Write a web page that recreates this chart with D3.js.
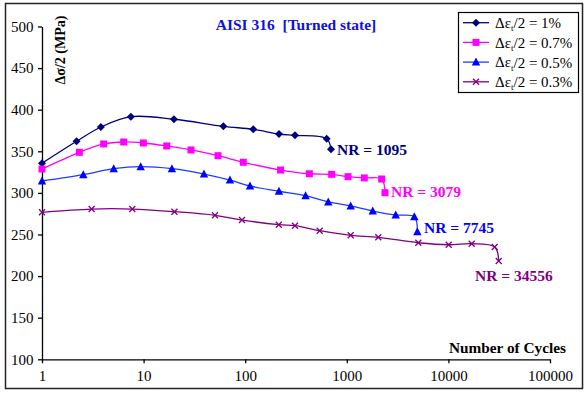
<!DOCTYPE html>
<html>
<head>
<meta charset="utf-8">
<script src="https://cdn.jsdelivr.net/npm/d3@7"></script>
<style>
  body { margin: 0; background: #fff; }
  svg text { font-family: "Liberation Serif", "Times New Roman", serif; }
</style>
</head>
<body>
<svg id="chart" width="588" height="393"></svg>
<script>
// values: [cycles, stress amplitude MPa]
const s1 = [[1,335.6],[2.19,362],[3.8,379.2],[7.5,391.6],[19.9,388.5],[61,380],[120,376.4],[215,370.8],[309,369.2],[634,365.1],[699,352.4]];
const s07 = [[1,328.7],[2.33,348.8],[4.05,358.8],[6.37,361.2],[9.94,360],[16.9,356.4],[29.3,351.6],[54,344.7],[95.7,336.8],[223,327.5],[428,323],[710,322.3],[1028,319.5],[1487,318],[2203,316.7],[2376,300.2]];
const s05 = [[1,314.3],[2.55,321.9],[5.08,329.1],[9.36,331.5],[19,329.1],[39.3,322.7],[70.8,315.5],[111.5,308.3],[215,302],[393,296.6],[657,289.1],[1092,284.3],[1800,278.2],[3030,273.4],[4620,271.4],[4947,253.4]];
const s03 = [[1,276.7],[3.08,280.6],[7.74,280.6],[20.1,277.4],[50.4,273.1],[93,267.4],[214,261.8],[309,260.6],[541,254.6],[1092,249],[2042,246.6],[5058,240.1],[10070,237.7],[16950,238.9],[28560,235],[31300,218.1]];

const seriesNames = ["1%", "0.7%", "0.5%", "0.3%"];
const nrLabels = ["NR = 1095", "NR = 3079", "NR = 7745", "NR = 34556"];
const xTicks = [1, 10, 100, 1000, 10000, 100000];
const yTicks = [100, 150, 200, 250, 300, 350, 400, 450, 500];

const series = [
  { data: s1,  color: "#000080", line: "#000080", mark: "diamond", label: [337, 150] },
  { data: s07, color: "#ff00ff", line: "#ff00ff", mark: "square",  label: [391, 192] },
  { data: s05, color: "#0000ff", line: "#1a3cff", mark: "triangle", label: [424, 228] },
  { data: s03, color: "#800080", line: "#800080", mark: "cross",   label: [475, 276] }
];

const margin = { top: 26.5, right: 38, bottom: 33.7, left: 42 };
const W = 588, H = 393;
const svg = d3.select("svg#chart");

// outer frame
svg.append("rect")
  .attr("x", 5.5).attr("y", 3.5).attr("width", 577).attr("height", 385)
  .attr("fill", "none").attr("stroke", "#222").attr("stroke-width", 1.5);

const x = d3.scaleLog().domain([1, 100000]).range([margin.left, W - margin.right]);
const y = d3.scaleLinear().domain([100, 500]).range([H - margin.bottom, margin.top]);

// axes
svg.append("g")
  .attr("transform", `translate(0,${y(100)})`)
  .attr("font-family", "Liberation Serif")
  .call(d3.axisBottom(x).tickValues(xTicks).tickFormat(d3.format("d")).tickSize(4).tickSizeOuter(0))
  .call(g => g.selectAll("text").attr("font-size", 15).attr("fill", "#000").attr("dy", "0.95em"))
  .call(g => g.selectAll("line, path").attr("stroke", "#000").attr("stroke-width", 1.3));

svg.append("g")
  .attr("transform", `translate(${margin.left},0)`)
  .attr("font-family", "Liberation Serif")
  .call(d3.axisLeft(y).tickValues(yTicks).tickSize(4).tickSizeOuter(0))
  .call(g => g.selectAll("text").attr("font-size", 15).attr("fill", "#000").attr("dx", "-0.1em"))
  .call(g => g.selectAll("line, path").attr("stroke", "#000").attr("stroke-width", 1.3));

// titles
svg.append("text")
  .attr("x", 296).attr("y", 30)
  .attr("text-anchor", "middle")
  .attr("font-size", 15.5).attr("font-weight", "bold").attr("fill", "#1010e0")
  .attr("xml:space", "preserve")
  .text("AISI 316  [Turned state]");

svg.append("text")
  .attr("transform", "translate(65,50) rotate(-90)")
  .attr("text-anchor", "middle")
  .attr("font-size", 14).attr("font-weight", "bold")
  .text("Δσ/2 (MPa)");

svg.append("text")
  .attr("x", 566).attr("y", 353)
  .attr("text-anchor", "end")
  .attr("font-size", 15.3).attr("font-weight", "bold")
  .text("Number of Cycles");

function drawMark(g, type, color) {
  if (type === "diamond") {
    g.append("path").attr("d", "M0,-4L4,0L0,4L-4,0Z").attr("fill", color);
  } else if (type === "square") {
    g.append("rect").attr("x", -3.5).attr("y", -3.5).attr("width", 7).attr("height", 7).attr("fill", color);
  } else if (type === "triangle") {
    g.append("path").attr("d", "M0,-4.5L4.2,3.5L-4.2,3.5Z").attr("fill", color);
  } else {
    g.append("path").attr("d", "M-3,-3L3,3M-3,3L3,-3").attr("stroke", color).attr("stroke-width", 1.3);
  }
}

const line = d3.line()
  .x(d => x(d[0]))
  .y(d => y(d[1]))
  .curve(d3.curveCatmullRom.alpha(0.5));

series.forEach((s, i) => {
  svg.append("path")
    .datum(s.data)
    .attr("fill", "none")
    .attr("stroke", s.line)
    .attr("stroke-width", 1.3)
    .attr("d", line);

  svg.append("g").selectAll("g")
    .data(s.data)
    .join("g")
    .attr("transform", d => `translate(${x(d[0])},${y(d[1])})`)
    .each(function () { drawMark(d3.select(this), s.mark, s.color); });

  svg.append("text")
    .attr("x", s.label[0]).attr("y", s.label[1])
    .attr("dy", "0.35em")
    .attr("font-size", 15.5).attr("font-weight", "bold")
    .attr("fill", s.color)
    .text(nrLabels[i]);
});

// legend
const lg = svg.append("g");
lg.append("rect")
  .attr("x", 458.5).attr("y", 12.5).attr("width", 120).attr("height", 80)
  .attr("fill", "#fff").attr("stroke", "#000").attr("stroke-width", 1.2);

series.forEach((s, i) => {
  const cy = 22.7 + i * 19.7;
  lg.append("line")
    .attr("x1", 463).attr("x2", 489).attr("y1", cy).attr("y2", cy)
    .attr("stroke", s.line).attr("stroke-width", 1.3);
  drawMark(lg.append("g").attr("transform", `translate(476,${cy})`), s.mark, s.color);
  const t = lg.append("text")
    .attr("x", 495).attr("y", cy).attr("dy", "0.35em")
    .attr("font-size", 15);
  t.append("tspan").text("Δε");
  t.append("tspan").attr("font-size", 9).attr("dy", "0.35em").text("t");
  t.append("tspan").attr("dy", "-0.2em").text("/2 = " + seriesNames[i]);
});
</script>
</body>
</html>
